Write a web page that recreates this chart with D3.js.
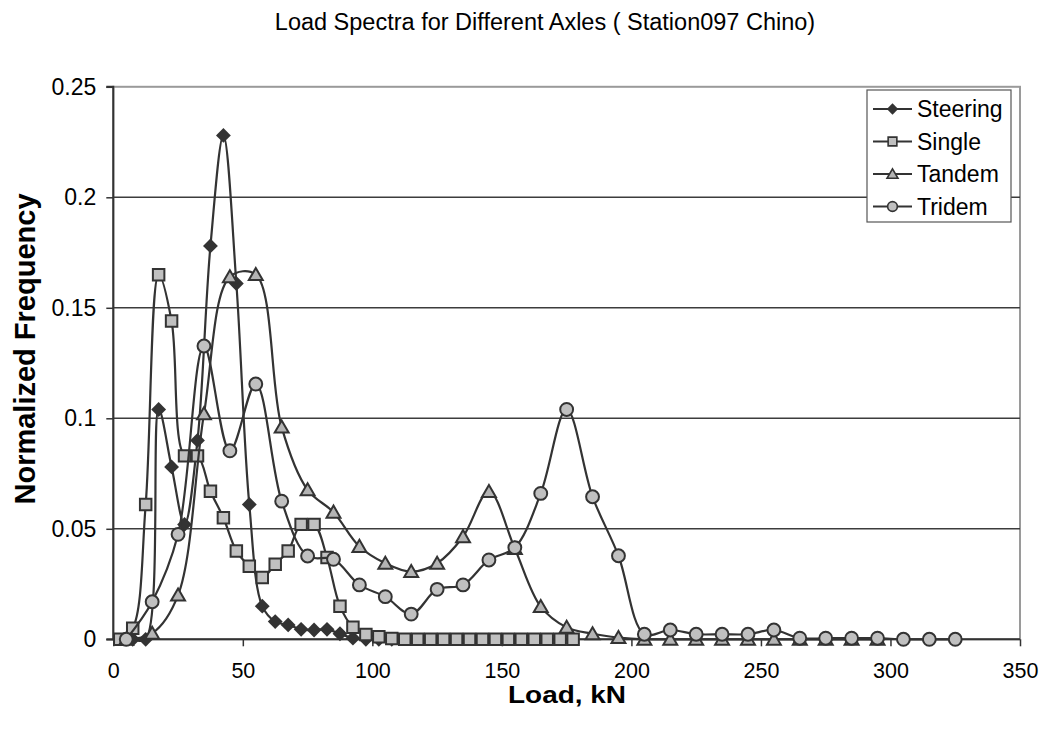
<!DOCTYPE html>
<html><head><meta charset="utf-8">
<script src="https://cdn.jsdelivr.net/npm/d3@7"></script>
<style>body{margin:0;background:#fff}svg{display:block}text{font-family:"Liberation Sans",Arial,sans-serif;fill:#000}</style>
</head><body><svg id="c" width="1045" height="734"></svg>
<script>
// ---- data ----
const steeringLoad = [7.5,12.5,17.5,22.5,27.5,32.5,37.5,42.5,47.5,52.5,57.5,62.5,67.5,72.5,77.5,82.5,87.5,92.5,97.5,102.5,107.5];
const steeringFreq = [0,0,0.104,0.078,0.052,0.090,0.178,0.228,0.161,0.061,0.015,0.008,0.0065,0.0045,0.0042,0.0045,0.0025,0.0005,0,0,0];
const singleLoad = [2.5,7.5,12.5,17.5,22.5,27.5,32.5,37.5,42.5,47.5,52.5,57.5,62.5,67.5,72.5,77.5,82.5,87.5,92.5,97.5,102.5,107.5,112.5,117.5,122.5,127.5,132.5,137.5,142.5,147.5,152.5,157.5,162.5,167.5,172.5,177.5];
const singleFreq = [0,0.005,0.061,0.165,0.144,0.083,0.083,0.067,0.055,0.040,0.033,0.028,0.034,0.040,0.052,0.052,0.037,0.015,0.0055,0.0022,0.0012,0.0004,0,0,0,0,0,0,0,0,0,0,0,0,0,0];
const tandemLoad = [5,15,25,35,45,55,65,75,85,95,105,115,125,135,145,155,165,175,185,195,205,215,225,235,245,255,265,275,285,295];
const tandemFreq = [0,0.0027,0.020,0.102,0.164,0.165,0.096,0.0676,0.0575,0.042,0.0344,0.0306,0.0344,0.0464,0.0668,0.041,0.0148,0.0054,0.0025,0.0008,0,0,0,0,0,0,0,0,0,0];
const tridemLoad = [5,15,25,35,45,55,65,75,85,95,105,115,125,135,145,155,165,175,185,195,205,215,225,235,245,255,265,275,285,295,305,315,325];
const tridemFreq = [0,0.017,0.0475,0.1327,0.0853,0.1155,0.0625,0.0377,0.0362,0.0246,0.0193,0.0114,0.0226,0.0246,0.0359,0.0415,0.066,0.104,0.0645,0.0378,0.0023,0.0042,0.0023,0.0023,0.0023,0.0042,0.0005,0.0005,0.0005,0.0005,0,0,0];
const seriesNames = ["Steering","Single","Tandem","Tridem"];
const xTicks = [0,50,100,150,200,250,300,350];
const yTicks = [0,0.05,0.1,0.15,0.2,0.25];
const yTickLabels = ["0","0.05","0.1","0.15","0.2","0.25"];
const titleText = "Load Spectra for Different Axles ( Station097 Chino)";
const xTitle = "Load, kN";
const yTitle = "Normalized Frequency";

// ---- layout ----
const L = 113.3, R = 1020, T = 86.8, B = 639.3;
const svg = d3.select("#c");
const x = d3.scaleLinear().domain([0,350]).range([L,R]);
const y = d3.scaleLinear().domain([0,0.25]).range([B,T]);

const diamond = {draw(ctx,size){const r=Math.sqrt(size/2);ctx.moveTo(0,-r);ctx.lineTo(r,0);ctx.lineTo(0,r);ctx.lineTo(-r,0);ctx.closePath();}};
const triUp = {draw(ctx,size){const s=Math.sqrt(size*4/Math.sqrt(3));const h=s*Math.sqrt(3)/2;ctx.moveTo(0,-h*0.55);ctx.lineTo(s/2,h*0.45);ctx.lineTo(-s/2,h*0.45);ctx.closePath();}};

const styles = [
  {load:steeringLoad,freq:steeringFreq,type:diamond,size:110,fill:"#333",stroke:"#333",sw:0, lsize:64},
  {load:singleLoad,freq:singleFreq,type:d3.symbolSquare,size:132,fill:"#c0c0c0",stroke:"#333",sw:2, lsize:76},
  {load:tandemLoad,freq:tandemFreq,type:triUp,size:84,fill:"#b4b4b4",stroke:"#333",sw:2, lsize:52},
  {load:tridemLoad,freq:tridemFreq,type:d3.symbolCircle,size:130,fill:"#c0c0c0",stroke:"#333",sw:2, lsize:74}
];

// plot border
svg.append("rect").attr("x",L).attr("y",T).attr("width",R-L).attr("height",B-T)
  .attr("fill","none").attr("stroke","#9a9a9a").attr("stroke-width",2);
// gridlines
svg.append("g").selectAll("line").data(yTicks.filter(d=>d>0&&d<0.25)).join("line")
  .attr("x1",L).attr("x2",R).attr("y1",d=>y(d)).attr("y2",d=>y(d))
  .attr("stroke","#3c3c3c").attr("stroke-width",1.4);

// axes
const xa = svg.append("g").attr("transform",`translate(0,${B})`)
  .call(d3.axisBottom(x).tickValues(xTicks).tickSize(7).tickPadding(16).tickFormat(d3.format("d")));
const ya = svg.append("g").attr("transform",`translate(${L},0)`)
  .call(d3.axisLeft(y).tickValues(yTicks).tickSize(7).tickPadding(10).tickFormat((d,i)=>yTickLabels[i]));
[xa,ya].forEach(a=>{
  a.select(".domain").attr("stroke","#333").attr("stroke-width",2);
  a.selectAll(".tick line").attr("stroke","#333").attr("stroke-width",1.5);
  a.selectAll(".tick text").attr("font-family","Liberation Sans, Arial, sans-serif").attr("fill","#000");
});
xa.selectAll(".tick text").attr("font-size",21.5);
ya.selectAll(".tick text").attr("font-size",23);
ya.select(".domain").attr("d",`M-7,${T}H0V${B}H-7`);
xa.select(".domain").attr("d",`M${L},0H${R}`);

// series
const line = d3.line().x(d=>x(d[0])).y(d=>y(d[1])).curve(d3.curveCatmullRom.alpha(0.5));
styles.forEach(s=>{
  const pts = s.load.map((v,i)=>[v,s.freq[i]]);
  const g = svg.append("g");
  g.append("path").attr("d",line(pts)).attr("fill","none").attr("stroke","#333").attr("stroke-width",2.2);
  g.selectAll("path.m").data(pts).join("path").attr("class","m")
    .attr("transform",d=>`translate(${x(d[0])},${y(d[1])})`)
    .attr("d",d3.symbol().type(s.type).size(s.size))
    .attr("fill",s.fill).attr("stroke",s.stroke).attr("stroke-width",s.sw);
});

// legend
const lg = svg.append("g");
lg.append("rect").attr("x",867).attr("y",90).attr("width",144).attr("height",132)
  .attr("fill","#fff").attr("stroke","#555").attr("stroke-width",1.2);
seriesNames.forEach((n,i)=>{
  const yy = 109 + i*32.5;
  lg.append("line").attr("x1",873).attr("x2",912).attr("y1",yy).attr("y2",yy).attr("stroke","#333").attr("stroke-width",2.2);
  lg.append("path").attr("transform",`translate(892.5,${yy})`).attr("d",d3.symbol().type(styles[i].type).size(styles[i].lsize))
    .attr("fill",styles[i].fill).attr("stroke",styles[i].stroke).attr("stroke-width",styles[i].sw?1.6:0);
  lg.append("text").attr("x",917).attr("y",yy).attr("dy","0.36em").attr("font-size",23).text(n);
});

// titles
svg.append("text").attr("x",545).attr("y",22).attr("dy","0.36em").attr("text-anchor","middle").attr("font-size",23.5).text(titleText);
svg.append("text").attr("x",508).attr("y",695).attr("dy","0.36em").attr("font-size",23).attr("font-weight","bold")
  .attr("textLength",118).attr("lengthAdjust","spacingAndGlyphs").text(xTitle);
svg.append("text").attr("transform","translate(25,349) rotate(-90)").attr("dy","0.36em").attr("text-anchor","middle").attr("font-size",29).attr("font-weight","bold").text(yTitle);
</script></body></html>
